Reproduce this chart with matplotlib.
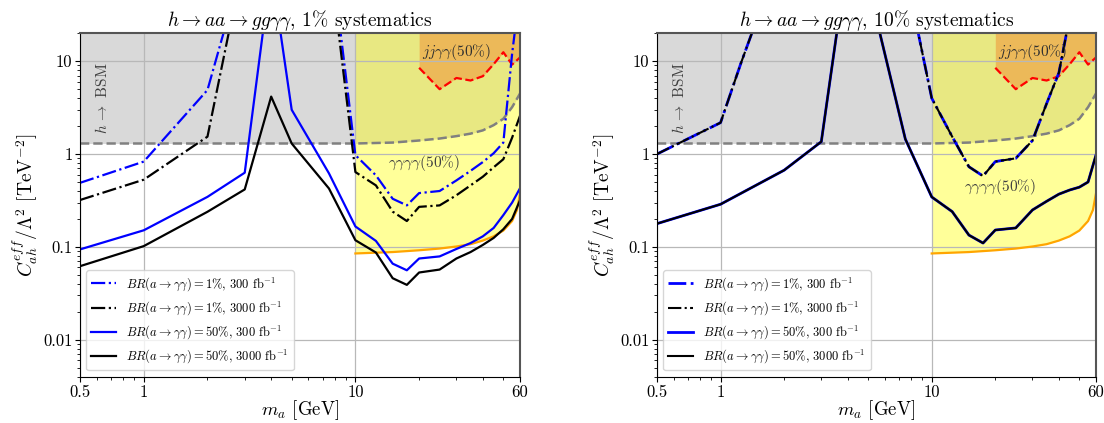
import matplotlib
matplotlib.use('Agg')
import matplotlib.pyplot as plt
from matplotlib.ticker import FixedLocator, FixedFormatter, NullFormatter, LogLocator

plt.rcParams['font.family'] = 'serif'
plt.rcParams['font.serif'] = ['cmr10']
plt.rcParams['mathtext.fontset'] = 'cm'
plt.rcParams['axes.formatter.use_mathtext'] = True
plt.rcParams['axes.unicode_minus'] = False

# mass points (GeV)
m_a = [0.5, 1, 2, 3, 4, 5, 7.5, 10, 12.5, 15, 17.5, 20, 25, 30, 35, 40, 45, 50, 55, 60]

# 1% systematics
sys1_br1_300 = [0.49, 0.83, 4.9, 130, 500, 500, 220, 0.975, 0.59, 0.33, 0.28, 0.38, 0.40,
                0.52, 0.66, 0.82, 1.02, 1.33, 12, 60]
sys1_br1_3000 = [0.32, 0.53, 1.54, 140, 500, 500, 150, 0.64, 0.46, 0.24, 0.19, 0.27, 0.28,
                 0.36, 0.46, 0.57, 0.72, 0.88, 1.5, 2.6]
sys1_br50_300 = [0.094, 0.151, 0.346, 0.63, 100, 3.0, 0.62, 0.166, 0.116, 0.066, 0.056, 0.075,
                 0.079, 0.095, 0.11, 0.13, 0.16, 0.22, 0.3, 0.43]
sys1_br50_3000 = [0.062, 0.102, 0.239, 0.416, 4.16, 1.3, 0.426, 0.118, 0.087, 0.046, 0.039,
                  0.053, 0.057, 0.075, 0.088, 0.105, 0.125, 0.155, 0.2, 0.32]

# 10% systematics (300 and 3000 fb^-1 lie on top of each other)
m_a_dd10 = [0.5, 1, 1.25, 2, 3, 4, 5, 7.5, 10, 12.5, 15, 17.5, 20, 25, 30, 35, 40, 45, 50, 55, 60]
sys10_br1 = [1.0, 2.18, 9.6, 180, 500, 500, 500, 94, 4.0, 1.54, 0.73, 0.58, 0.83, 0.90, 1.4,
             3.5, 7.5, 30, 100, 200, 300]
sys10_br50 = [0.178, 0.288, 0.67, 1.36, 136, 67, 1.45, 0.345, 0.24, 0.134, 0.11, 0.152, 0.16,
              0.25, 0.31, 0.37, 0.41, 0.44, 0.5, 0.98]

# h -> BSM bound
m_bsm = [0.5, 10, 15, 20, 25, 30, 35, 40, 45, 50, 55, 60]
c_bsm = [1.3, 1.3, 1.33, 1.4, 1.47, 1.56, 1.66, 1.8, 2.05, 2.4, 3.2, 4.5]

# 4 photon bound (50%)
m_4g = [10, 15, 20, 25, 30, 35, 40, 45, 50, 55, 58, 60]
c_4g = [0.085, 0.088, 0.092, 0.096, 0.101, 0.107, 0.117, 0.13, 0.15, 0.19, 0.25, 0.38]

# jj gamma gamma bound (50%)
m_jj = [20, 25, 30, 35, 40, 45, 50, 55, 60]
c_jj = [8.5, 5.0, 6.6, 6.2, 6.9, 9.3, 12.5, 9.2, 11]

YMIN = 0.004
YMAX = 20
TOP = 1000

labels = [r'$BR(a\to\gamma\gamma)=1\%$, 300 fb$^{-1}$',
          r'$BR(a\to\gamma\gamma)=1\%$, 3000 fb$^{-1}$',
          r'$BR(a\to\gamma\gamma)=50\%$, 300 fb$^{-1}$',
          r'$BR(a\to\gamma\gamma)=50\%$, 3000 fb$^{-1}$']


def background(ax, gg_label_y):
    ax.fill_between(m_bsm, c_bsm, TOP, color='#d9d9d9', lw=0, zorder=0.5)
    ax.plot(m_bsm, c_bsm, color='grey', ls='--', lw=1.8, zorder=1.8)
    ax.fill_between(m_4g, c_4g, TOP, color='yellow', alpha=0.4, lw=0, zorder=0.6)
    ax.plot(m_4g, c_4g, color='orange', lw=1.6, zorder=1.8)
    ax.fill_between(m_jj, c_jj, TOP, color='#ef9b3f', alpha=0.6, lw=0, zorder=0.7)
    ax.plot(m_jj, c_jj, color='red', ls='--', lw=1.6, zorder=1.8)
    ax.text(0.635, 4.0, r'$h\,\to$ BSM', rotation=90, ha='center', va='center',
            fontsize=11, color='#404040')
    ax.text(21, gg_label_y, r'$\gamma\gamma\gamma\gamma$(50%)', ha='center', va='center',
            fontsize=11, color='#404040')
    ax.text(30, 12.5, r'$jj\gamma\gamma$(50%)', ha='center', va='center',
            fontsize=11, color='#303030')


def style(ax, title):
    ax.set_xscale('log')
    ax.set_yscale('log')
    ax.set_xlim(0.5, 60)
    ax.set_ylim(YMIN, YMAX)
    ax.xaxis.set_major_locator(FixedLocator([0.5, 1, 10, 60]))
    ax.xaxis.set_major_formatter(FixedFormatter(['0.5', '1', '10', '60']))
    ax.xaxis.set_minor_locator(LogLocator(base=10, subs=range(2, 10)))
    ax.xaxis.set_minor_formatter(NullFormatter())
    ax.yaxis.set_major_locator(FixedLocator([0.01, 0.1, 1, 10]))
    ax.yaxis.set_major_formatter(FixedFormatter(['0.01', '0.1', '1', '10']))
    ax.yaxis.set_minor_locator(LogLocator(base=10, subs=range(2, 10)))
    ax.yaxis.set_minor_formatter(NullFormatter())
    ax.tick_params(labelsize=12, pad=2)
    ax.grid(True, which='major', color='#b8b8b8', lw=0.9)
    for s in ['top', 'right']:
        ax.spines[s].set_color('#555555')
        ax.spines[s].set_linewidth(1.5)
    ax.set_title(title, fontsize=14, pad=3)
    ax.set_xlabel(r'$m_a$ [GeV]', fontsize=13.5, labelpad=-1)
    ax.set_ylabel(r'$C_{ah}^{eff}/\Lambda^2$ [TeV$^{-2}$]', fontsize=14, labelpad=2)
    ax.legend(loc='lower left', fontsize=9, framealpha=0.8)


fig = plt.figure(figsize=(11.04, 4.23), dpi=100)
ax1 = fig.add_axes([0.0725, 0.1095, 0.3986, 0.8118])
ax2 = fig.add_axes([0.5951, 0.1095, 0.3977, 0.8118])

background(ax1, 0.8)
ax1.plot(m_a, sys1_br1_300, color='blue', ls='-.', lw=1.6, label=labels[0])
ax1.plot(m_a, sys1_br1_3000, color='black', ls='-.', lw=1.6, label=labels[1])
ax1.plot(m_a, sys1_br50_300, color='blue', ls='-', lw=1.6, label=labels[2])
ax1.plot(m_a, sys1_br50_3000, color='black', ls='-', lw=1.6, label=labels[3])
style(ax1, r'$h\to aa\to gg\gamma\gamma$, 1% systematics')

background(ax2, 0.44)
ax2.plot(m_a_dd10, sys10_br1, color='blue', ls='-.', lw=2.0, label=labels[0])
ax2.plot(m_a_dd10, sys10_br1, color='black', ls='-.', lw=1.5, label=labels[1])
ax2.plot(m_a, sys10_br50, color='blue', ls='-', lw=2.0, label=labels[2])
ax2.plot(m_a, sys10_br50, color='black', ls='-', lw=1.5, label=labels[3])
style(ax2, r'$h\to aa\to gg\gamma\gamma$, 10% systematics')

fig.savefig('out.png', dpi=100)
